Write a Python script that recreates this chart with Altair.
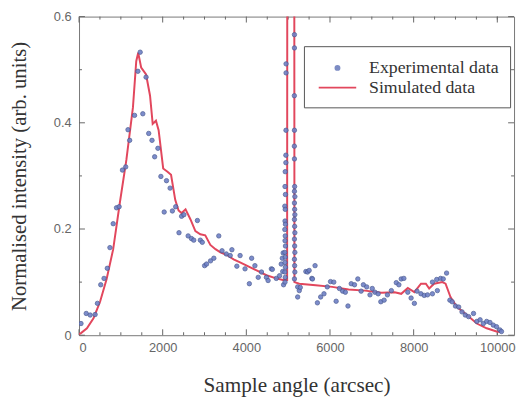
import altair as alt
import pandas as pd

SERIF = "Liberation Serif"
SANS = "Liberation Sans"

exp_x = [47, 172, 267, 385, 440, 519, 598, 676, 739, 817, 896, 959, 1038, 1116, 1171, 1211,
         1328, 1407, 1462, 1525, 1603, 1666, 1745, 1808, 1886, 1957, 2036, 2091, 2177, 2232,
         2311, 2390, 2452, 2507, 2609, 2688, 2743, 2830, 2900, 2947, 3002, 3049, 3144, 3223,
         3341, 3419, 3521, 3615, 3655, 3773, 3851, 3969, 4072, 4127, 4205, 4284, 4362, 4480,
         4520, 4598, 4622, 4716, 4794, 4834, 4860, 4870, 4880, 4890,
         # left vertical cluster
         4950, 4950, 4948, 4945, 4945, 4930, 4925, 4935, 4920, 4930, 4925, 4935, 4920, 4930,
         4925, 4935, 4920, 4930, 4925, 4935, 4920, 4930, 4925,
         # right vertical cluster
         5150, 5150, 5148, 5150, 5148, 5150, 5155, 5150, 5160, 5150, 5155, 5160, 5150, 5155,
         5160, 5150, 5155, 5160, 5150, 5155, 5160, 5150,
         # after the peak
         5227, 5227, 5266, 5290, 5423, 5463, 5502, 5565, 5581, 5643, 5699, 5777, 5856, 5935,
         6013, 6091, 6147, 6225, 6303, 6367, 6430, 6508, 6586, 6665, 6744, 6798, 6877, 6956,
         7010, 7074, 7152, 7215, 7294, 7373, 7467, 7585, 7647, 7703, 7766, 7860, 7939, 8017,
         8080, 8175, 8253, 8331, 8449, 8449, 8551, 8567, 8645, 8708, 8787, 8866, 8921, 8999,
         9077, 9156, 9235, 9314, 9431, 9510, 9589, 9667, 9746, 9825, 9904, 9982, 10061, 10100]
exp_y = [0.022, 0.041, 0.038, 0.039, 0.060, 0.095, 0.107, 0.126, 0.165, 0.210, 0.240, 0.242,
         0.311, 0.317, 0.387, 0.367, 0.414, 0.497, 0.533, 0.417, 0.486, 0.380, 0.367, 0.336,
         0.352, 0.299, 0.232, 0.291, 0.277, 0.234, 0.242, 0.193, 0.224, 0.227, 0.187, 0.182,
         0.179, 0.216, 0.179, 0.175, 0.131, 0.134, 0.140, 0.145, 0.187, 0.159, 0.153, 0.150,
         0.161, 0.130, 0.150, 0.125, 0.097, 0.145, 0.131, 0.109, 0.119, 0.109, 0.103, 0.125,
         0.124, 0.107, 0.112, 0.134, 0.145, 0.120, 0.155, 0.095,
         0.511, 0.494, 0.386, 0.339, 0.325, 0.308, 0.280, 0.265, 0.243, 0.237, 0.215, 0.209,
         0.199, 0.187, 0.178, 0.168, 0.156, 0.147, 0.137, 0.128, 0.119, 0.109, 0.100,
         0.566, 0.541, 0.451, 0.386, 0.356, 0.332, 0.280, 0.271, 0.261, 0.249, 0.237, 0.227,
         0.218, 0.205, 0.193, 0.181, 0.168, 0.156, 0.143, 0.131, 0.119, 0.106,
         0.091, 0.072, 0.084, 0.090, 0.120, 0.119, 0.122, 0.107, 0.106, 0.131, 0.061, 0.072,
         0.078, 0.091, 0.101, 0.100, 0.064, 0.088, 0.083, 0.081, 0.055, 0.097, 0.095, 0.106,
         0.083, 0.095, 0.091, 0.076, 0.088, 0.081, 0.078, 0.063, 0.066, 0.076, 0.084, 0.099,
         0.095, 0.106, 0.107, 0.081, 0.070, 0.060, 0.083, 0.078, 0.075, 0.076, 0.078, 0.100,
         0.105, 0.084, 0.107, 0.106, 0.117, 0.066, 0.063, 0.055, 0.053, 0.044, 0.038, 0.035,
         0.041, 0.026, 0.029, 0.022, 0.026, 0.024, 0.019, 0.016, 0.010, 0.007]

# ---- Simulated data ----
sim_x = [0, 47, 189, 346, 503, 660, 817, 975, 1132, 1289, 1368, 1415, 1486, 1603, 1698, 1761,
         1839, 1903, 2012, 2115, 2200, 2300, 2380, 2452, 2547, 2665, 2782, 2900, 3018, 3140,
         3262, 3380, 3537, 3695, 3850, 4009, 4245, 4480, 4716, 4873, 4975, 4993, 5133, 5150,
         5266, 5659, 6052, 6445, 6838, 7231, 7546, 7703, 7860, 8017, 8175, 8292, 8371, 8489,
         8685, 8763, 8881, 9038, 9274, 9510, 9746, 9982, 10061]
sim_y = [0.002, 0.004, 0.013, 0.032, 0.063, 0.106, 0.162, 0.249, 0.330, 0.429, 0.516, 0.532,
         0.504, 0.491, 0.451, 0.398, 0.404, 0.386, 0.314, 0.308, 0.302, 0.255, 0.235, 0.230,
         0.237, 0.218, 0.196, 0.190, 0.188, 0.170, 0.162, 0.156, 0.151, 0.143, 0.137, 0.131,
         0.122, 0.113, 0.107, 0.104, 0.104, 3.0, 3.0, 0.100, 0.097, 0.094, 0.091, 0.086,
         0.084, 0.080, 0.081, 0.078, 0.089, 0.081, 0.097, 0.097, 0.088, 0.097, 0.100, 0.097,
         0.072, 0.053, 0.038, 0.022, 0.013, 0.007, 0.006]

series_names = ["Experimental data", "Simulated data"]
x_labels = [0, 2000, 4000, 6000, 8000, 10000]
y_labels = [0, 0.2, 0.4, 0.6]
x_minor = [500, 1000, 1500, 2500, 3000, 3500, 4500, 5000, 5500, 6500, 7000, 7500,
           8500, 9000, 9500, 10000]
y_minor = [0.1, 0.3, 0.5]

PT_FILL, PT_STROKE, LINE_RED = "#6e80c6", "#4a5a92", "#e2475d"

W, H = 441, 323

exp_df = pd.DataFrame({"x": exp_x, "y": exp_y})
sim_df = pd.DataFrame({"x": sim_x, "y": sim_y})
legend_df = pd.DataFrame({"series": series_names, "x": [None, None], "y": [None, None]})

xs = alt.Scale(domain=[0, 10400], nice=False, zero=False)
ys = alt.Scale(domain=[0, 0.6], nice=False, zero=False)

xaxis = alt.Axis(values=x_labels, format="d", ticks=False, domain=False, grid=False,
                 labelFont=SANS, labelFontSize=13, labelColor="#666", labelPadding=7,
                 titleFont=SERIF, titleFontSize=21.5, titleFontWeight="normal",
                 titleColor="#333", titleY=57, titleBaseline="alphabetic")
yaxis = alt.Axis(values=y_labels, format="~g", ticks=False, domain=False, grid=False,
                 labelFont=SANS, labelFontSize=13, labelColor="#666", labelPadding=8,
                 titleFont=SERIF, titleFontSize=21, titleFontWeight="normal",
                 titleColor="#333", titleX=-60, titleBaseline="middle")

XT = "Sample angle (arcsec)"
YT = "Normalised intensity (arb. units)"


def xenc(f):
    return alt.X(f, type="quantitative", scale=xs, axis=xaxis, title=XT)


def yenc(f):
    return alt.Y(f, type="quantitative", scale=ys, axis=yaxis, title=YT)


leg = alt.Legend(orient="none", legendX=228, legendY=30, padding=11, strokeColor="#555",
                 fillColor="white", labelFont=SERIF, labelFontSize=18, labelColor="#333",
                 symbolStrokeWidth=2, symbolSize=400, symbolOpacity=1,
                 labelOffset=33, rowPadding=-2)

# legend glyphs: a small dot and a short line, both centred at the same place
dot_path = "M1.4,0A0.2,0.2,0,1,1,1,0A0.2,0.2,0,1,1,1.4,0Z"
line_path = "M-0.7,0H3.1"

legend_layer = alt.Chart(legend_df).mark_point(filled=True, size=400, strokeWidth=2).encode(
    x=xenc("x"), y=yenc("y"),
    fill=alt.Fill("series:N", title=None, legend=leg,
                  scale=alt.Scale(domain=series_names, range=["#7d8cc4", LINE_RED])),
    stroke=alt.Stroke("series:N", title=None, legend=leg,
                      scale=alt.Scale(domain=series_names, range=["#7d8cc4", LINE_RED])),
    shape=alt.Shape("series:N", title=None, legend=leg,
                    scale=alt.Scale(domain=series_names, range=[dot_path, line_path])),
)

line = alt.Chart(sim_df).mark_line(strokeWidth=2, clip=True, color=LINE_RED).encode(
    x=xenc("x"), y=yenc("y"))

points = alt.Chart(exp_df).mark_point(
    filled=True, opacity=0.9, strokeWidth=0.8, clip=True, size=20,
    fill=PT_FILL, stroke=PT_STROKE, shape="circle"
).encode(x=xenc("x"), y=yenc("y"))


def ticks(vals, side, length):
    df = pd.DataFrame({"v": vals})
    base = alt.Chart(df).mark_rule(color="#666", strokeWidth=1)
    if side == "bottom":
        return base.encode(x=xenc("v"), y=alt.value(H), y2=alt.value(H - length))
    if side == "top":
        return base.encode(x=xenc("v"), y=alt.value(0), y2=alt.value(length))
    if side == "left":
        return base.encode(y=yenc("v"), x=alt.value(0), x2=alt.value(length))
    return base.encode(y=yenc("v"), x=alt.value(W), x2=alt.value(W - length))


tick_layers = [
    ticks(x_labels, "bottom", 6), ticks(x_minor, "bottom", 3),
    ticks(x_labels, "top", 6), ticks(x_minor, "top", 3),
    ticks(y_labels, "left", 6), ticks(y_minor, "left", 3),
    ticks(y_labels, "right", 6), ticks(y_minor, "right", 3),
]

chart = alt.layer(legend_layer, *tick_layers, line, points).properties(
    width=W, height=H,
    autosize=alt.AutoSizeParams(type="none"),
    padding={"left": 72, "top": 6, "right": 3, "bottom": 66},
    background="white",
).configure_view(stroke="#777", strokeWidth=1)

chart.save("out.html", embed_options={"renderer": "svg", "actions": False})
